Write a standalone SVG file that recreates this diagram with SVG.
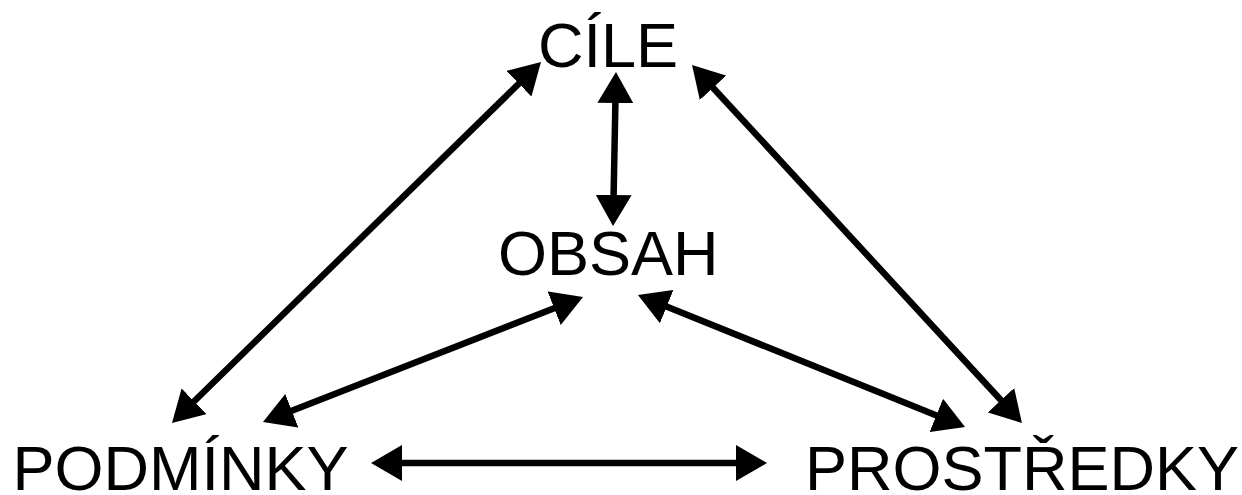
<svg xmlns="http://www.w3.org/2000/svg" width="1242" height="495" viewBox="0 0 1242 495">
<style>
.lbl{font-family:"Liberation Sans",Arial,sans-serif;font-size:63px;fill:#000}
.c{stroke:#000;stroke-width:6.5;fill:none;marker-start:url(#ah);marker-end:url(#ah)}
</style>
<defs>
<marker id="ah" markerUnits="userSpaceOnUse" markerWidth="31" markerHeight="36" refX="11" refY="18" orient="auto-start-reverse" viewBox="0 0 31 36">
<path d="M0,0 L31,18 L0,36 z" fill="#000"/>
</marker>
</defs>
<rect width="1242" height="495" fill="#fff"/>
<g id="connectors">
<line class="c" x1="615.6" y1="92" x2="613.4" y2="206"/>
<line class="c" x1="526.7" y1="76" x2="186.3" y2="409"/>
<line class="c" x1="705.6" y1="79.7" x2="1008.4" y2="408.3"/>
<line class="c" x1="564.4" y1="304.3" x2="281.6" y2="414.7"/>
<line class="c" x1="656.5" y1="302.5" x2="946.5" y2="419.5"/>
<line class="c" x1="391" y1="463" x2="747" y2="463"/>
</g>
<g id="cile"><text class="lbl" x="538" y="67">CÍLE</text></g>
<g id="obsah"><text class="lbl" x="498" y="275">OBSAH</text></g>
<g id="podminky"><text class="lbl" x="12.5" y="490">PODMÍNKY</text></g>
<g id="prostredky"><text class="lbl" x="805" y="490">PROSTŘEDKY</text></g>
</svg>
